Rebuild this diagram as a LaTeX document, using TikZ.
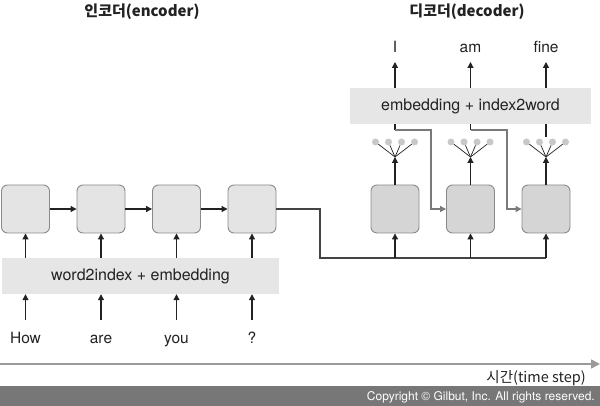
\documentclass[tikz,border=0pt]{standalone}
\usepackage{fontspec}
\setmainfont{TeX Gyre Heros}
\newfontfamily\kr{Noto Sans CJK KR}
\usetikzlibrary{arrows.meta,calc}
\definecolor{encfill}{HTML}{E4E4E4}
\definecolor{decfill}{HTML}{D5D5D5}
\definecolor{bandfill}{HTML}{E6E6E6}
\definecolor{boxline}{HTML}{8A8A8A}
\definecolor{ink}{HTML}{222222}
\definecolor{busline}{HTML}{444444}
\definecolor{grayline}{HTML}{7A7A7A}
\definecolor{dotfill}{HTML}{C8C8C8}
\definecolor{axisline}{HTML}{9A9A9A}
\definecolor{footer}{HTML}{777777}
\begin{document}
\begin{tikzpicture}[x=1pt,y=-1pt,
  cell/.style={draw=boxline, line width=0.9pt, rounded corners=6pt, minimum width=48pt, minimum height=48pt, inner sep=0},
  enccell/.style={cell, fill=encfill},
  deccell/.style={cell, fill=decfill},
  band/.style={fill=bandfill, inner sep=0, minimum height=36pt, text=ink, font=\fontsize{16}{18}\selectfont},
  word/.style={inner sep=0, anchor=base, text=ink, font=\fontsize{15.5}{18}\selectfont},
  arr/.style={draw=ink, line width=1.2pt, -{Triangle[length=6pt,width=6pt]}},
  ln/.style={draw=busline, line width=1.4pt},
  tick/.style={draw=ink, line width=1.2pt},
  garr/.style={draw=grayline, line width=1.1pt, -{Triangle[length=6pt,width=6pt]}},
  fan/.style={draw=ink, line width=0.7pt},
  dot/.style={circle, fill=dotfill, minimum size=7pt, inner sep=0},
  title/.style={text=ink, font=\kr\bfseries\fontsize{15}{18}\selectfont},
  axis/.style={draw=axisline, line width=1.5pt, -{Triangle[length=9pt,width=9pt]}}
]
\useasboundingbox (0,0) rectangle (600,406);

% titles
\node[title] (tenc) at (142,12) {인코더(encoder)};
\node[title] (tdec) at (467,12) {디코더(decoder)};

% encoder
\foreach \i/\x in {1/25.5,2/101,3/176.5,4/252}
  \node[enccell] (e\i) at (\x,209) {};
\node[band, minimum width=277pt] (encband) at (140.5,276) {word2index + embedding};
\foreach \i/\w in {1/How,2/are,3/you,4/?}
  \node[word] (w\i) at (e\i |- 0,343) {\w};
\foreach \i in {1,...,4} {
  \coordinate (wt\i) at (e\i |- 0,320);
  \draw[arr] (wt\i) -- (wt\i |- encband.south);
  \draw[arr] (e\i |- encband.north) -- (e\i.south);
}
\draw[arr] (e1) -- (e2);
\draw[arr] (e2) -- (e3);
\draw[arr] (e3) -- (e4);

% decoder
\foreach \i/\x in {1/395,2/470.5,3/546}
  \node[deccell] (d\i) at (\x,209) {};
\node[band, minimum width=241pt] (decband) at (470.5,106) {embedding + index2word};
\foreach \i/\w in {1/I,2/am,3/fine}
  \node[word] (o\i) at (d\i |- 0,53) {\w};

% bus from encoder to decoder
\coordinate (bend) at (320,209);
\coordinate (bus) at (320,258);
\draw[ln] (e4.east) -- (bend) -- (bus) -- (d3.south |- bus);
\foreach \i in {1,2,3}
  \draw[arr] (d\i.south |- bus) -- (d\i.south);

% output arrows, fans, dots
\foreach \i in {1,2,3} {
  \coordinate (a\i) at (d\i |- 0,157);
  \draw[arr] (d\i.north) -- (a\i);
  \foreach \k/\dx in {1/-19.5,2/-6.5,3/6.5,4/19.5} {
    \node[dot] (p\i\k) at ($(d\i |- 0,142)+(\dx,0)$) {};
    \draw[fan] (a\i) -- (p\i\k);
  }
  \coordinate (ot\i) at (d\i |- 0,62);
  \draw[arr] (d\i |- decband.north) -- (ot\i);
}
\coordinate (t1) at (d1 |- 0,130);
\coordinate (t2) at (d2 |- 0,130);
\coordinate (t3) at (d3 |- 0,137);
\draw[tick] (t1 |- decband.south) -- (t1);
\draw[tick] (t2 |- decband.south) -- (t2);
\draw[tick] (t3 |- decband.south) -- (t3);
\coordinate (b1) at (431,130);
\coordinate (b2) at (507,130);
\draw[garr] (t1) -- (b1) |- (d2.west);
\draw[garr] (t2) -- (b2) |- (d3.west);

% time axis
\coordinate (tl) at (0,364);
\coordinate (tr) at (600,364);
\draw[axis] (tl) -- (tr);
\node[anchor=east, inner sep=0, text=ink, font=\kr\fontsize{14.5}{16}\selectfont] (tlabel) at (586,378) {시간(time step)};

% footer
\fill[footer] (0,386) rectangle (600,406);
\node[anchor=east, inner sep=0, text=white, font=\fontsize{12}{14}\selectfont] (copy) at (595,397) {Copyright © Gilbut, Inc. All rights reserved.};
\end{tikzpicture}
\end{document}
